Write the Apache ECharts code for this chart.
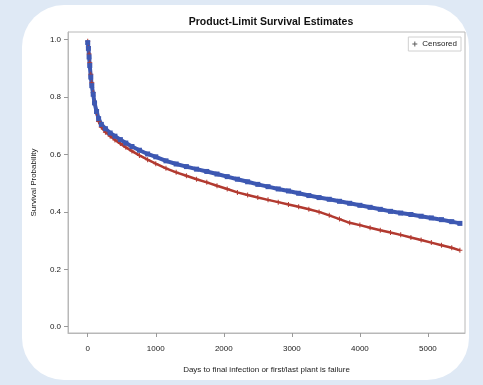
<!DOCTYPE html>
<html>
<head>
<meta charset="utf-8">
<script src="https://cdn.jsdelivr.net/npm/echarts@6/dist/echarts.min.js"></script>
<style>
  html, body { margin: 0; padding: 0; background: #dfe9f5; }
  #chart { width: 483px; height: 385px; }
</style>
</head>
<body>
<div id="chart"></div>
<script>
// survival curves (days, probability)
const blueDays = [0, 10, 20, 30, 45, 60, 80, 100, 130, 160, 200, 260, 330, 400, 480, 560, 650, 760, 880, 1000, 1150, 1300, 1450, 1600, 1750, 1900, 2050, 2200, 2350, 2500, 2650, 2800, 2950, 3100, 3250, 3400, 3550, 3700, 3850, 4000, 4150, 4300, 4450, 4600, 4750, 4900, 5050, 5200, 5350, 5470];
const blueSurv = [0.99, 0.97, 0.94, 0.91, 0.87, 0.84, 0.81, 0.78, 0.75, 0.725, 0.705, 0.69, 0.675, 0.664, 0.652, 0.64, 0.628, 0.615, 0.602, 0.592, 0.578, 0.567, 0.558, 0.549, 0.541, 0.532, 0.523, 0.514, 0.505, 0.496, 0.488, 0.48, 0.473, 0.465, 0.457, 0.45, 0.444, 0.437, 0.43, 0.423, 0.416, 0.409, 0.402, 0.396, 0.391, 0.385, 0.379, 0.373, 0.366, 0.36];
const redDays = [0, 10, 20, 30, 45, 60, 80, 100, 130, 160, 200, 260, 330, 400, 480, 560, 650, 760, 880, 1000, 1150, 1300, 1450, 1600, 1750, 1900, 2050, 2200, 2350, 2500, 2650, 2800, 2950, 3100, 3250, 3400, 3550, 3700, 3850, 4000, 4150, 4300, 4450, 4600, 4750, 4900, 5050, 5200, 5350, 5470];
const redSurv = [0.995, 0.975, 0.95, 0.92, 0.88, 0.85, 0.815, 0.78, 0.745, 0.715, 0.695, 0.678, 0.664, 0.651, 0.638, 0.625, 0.612, 0.597, 0.582, 0.568, 0.552, 0.538, 0.526, 0.514, 0.503, 0.491, 0.48, 0.468, 0.459, 0.45, 0.442, 0.434, 0.426, 0.418, 0.409, 0.4, 0.388, 0.375, 0.362, 0.354, 0.345, 0.336, 0.328, 0.32, 0.311, 0.302, 0.293, 0.284, 0.275, 0.266];
const xTicks = [0, 1000, 2000, 3000, 4000, 5000];
const yTicks = [0, 0.2, 0.4, 0.6, 0.8, 1.0];

const plusPath = 'path://M4,0 L6,0 L6,4 L10,4 L10,6 L6,6 L6,10 L4,10 L4,6 L0,6 L0,4 L4,4 Z';
const txt = '#222';

const chart = echarts.init(document.getElementById('chart'));
chart.setOption({
  backgroundColor: '#dfe9f5',
  animation: false,
  graphic: [{
    type: 'rect', z: -10,
    shape: { x: 22, y: 5, width: 447, height: 375, r: 42 },
    style: { fill: '#ffffff' }
  }],
  title: {
    text: 'Product-Limit Survival Estimates',
    left: 266, top: 12, textAlign: 'center',
    textStyle: { fontFamily: 'Liberation Sans', fontSize: 10.5, fontWeight: 'bold', color: '#111' }
  },
  legend: {
    data: [{ name: 'Censored', icon: plusPath }],
    right: 22, top: 37,
    itemWidth: 5, itemHeight: 5, itemGap: 3,
    padding: [3, 4], borderColor: '#d0d0d0', borderWidth: 1,
    textStyle: { fontFamily: 'Liberation Sans', fontSize: 8, color: txt }
  },
  grid: { left: 68, top: 32, right: 18, bottom: 52, show: true, borderColor: '#b8b8b8', borderWidth: 1 },
  xAxis: {
    type: 'value', min: -290, max: 5545,
    name: 'Days to final infection or first/last plant is failure',
    nameLocation: 'middle', nameGap: 33,
    nameTextStyle: { fontFamily: 'Liberation Sans', fontSize: 8, color: txt },
    axisLine: { onZero: false, lineStyle: { color: '#b8b8b8' } },
    axisTick: { show: true, length: 4, lineStyle: { color: '#999' }, customValues: xTicks },
    axisLabel: { fontFamily: 'Liberation Sans', fontSize: 8, color: txt, margin: 12,
      customValues: xTicks, formatter: v => String(v) },
    splitLine: { show: false }
  },
  yAxis: {
    type: 'value', min: -0.022, max: 1.027,
    name: 'Survival Probability',
    nameLocation: 'middle', nameGap: 30,
    nameTextStyle: { fontFamily: 'Liberation Sans', fontSize: 8, color: txt },
    axisLine: { show: true, onZero: false, lineStyle: { color: '#b8b8b8' } },
    axisTick: { show: true, length: 4, lineStyle: { color: '#999' }, customValues: yTicks },
    axisLabel: { fontFamily: 'Liberation Sans', fontSize: 8, color: txt, margin: 7,
      customValues: yTicks, formatter: v => v.toFixed(1) },
    splitLine: { show: false }
  },
  series: [
    {
      name: 'Censored', type: 'scatter', data: [], itemStyle: { color: '#333' }
    },
    {
      name: 'red', type: 'line',
      data: redDays.map((d, i) => [d, redSurv[i]]),
      symbol: plusPath, symbolSize: 5, showAllSymbol: true,
      lineStyle: { color: '#b23a30', width: 2.5 },
      itemStyle: { color: '#b23a30' }
    },
    {
      name: 'blue', type: 'line',
      data: blueDays.map((d, i) => [d, blueSurv[i]]),
      symbol: 'rect', symbolSize: 5, showAllSymbol: true,
      lineStyle: { color: '#3d58b2', width: 4 },
      itemStyle: { color: '#3d58b2' }
    }
  ]
});
</script>
</body>
</html>
